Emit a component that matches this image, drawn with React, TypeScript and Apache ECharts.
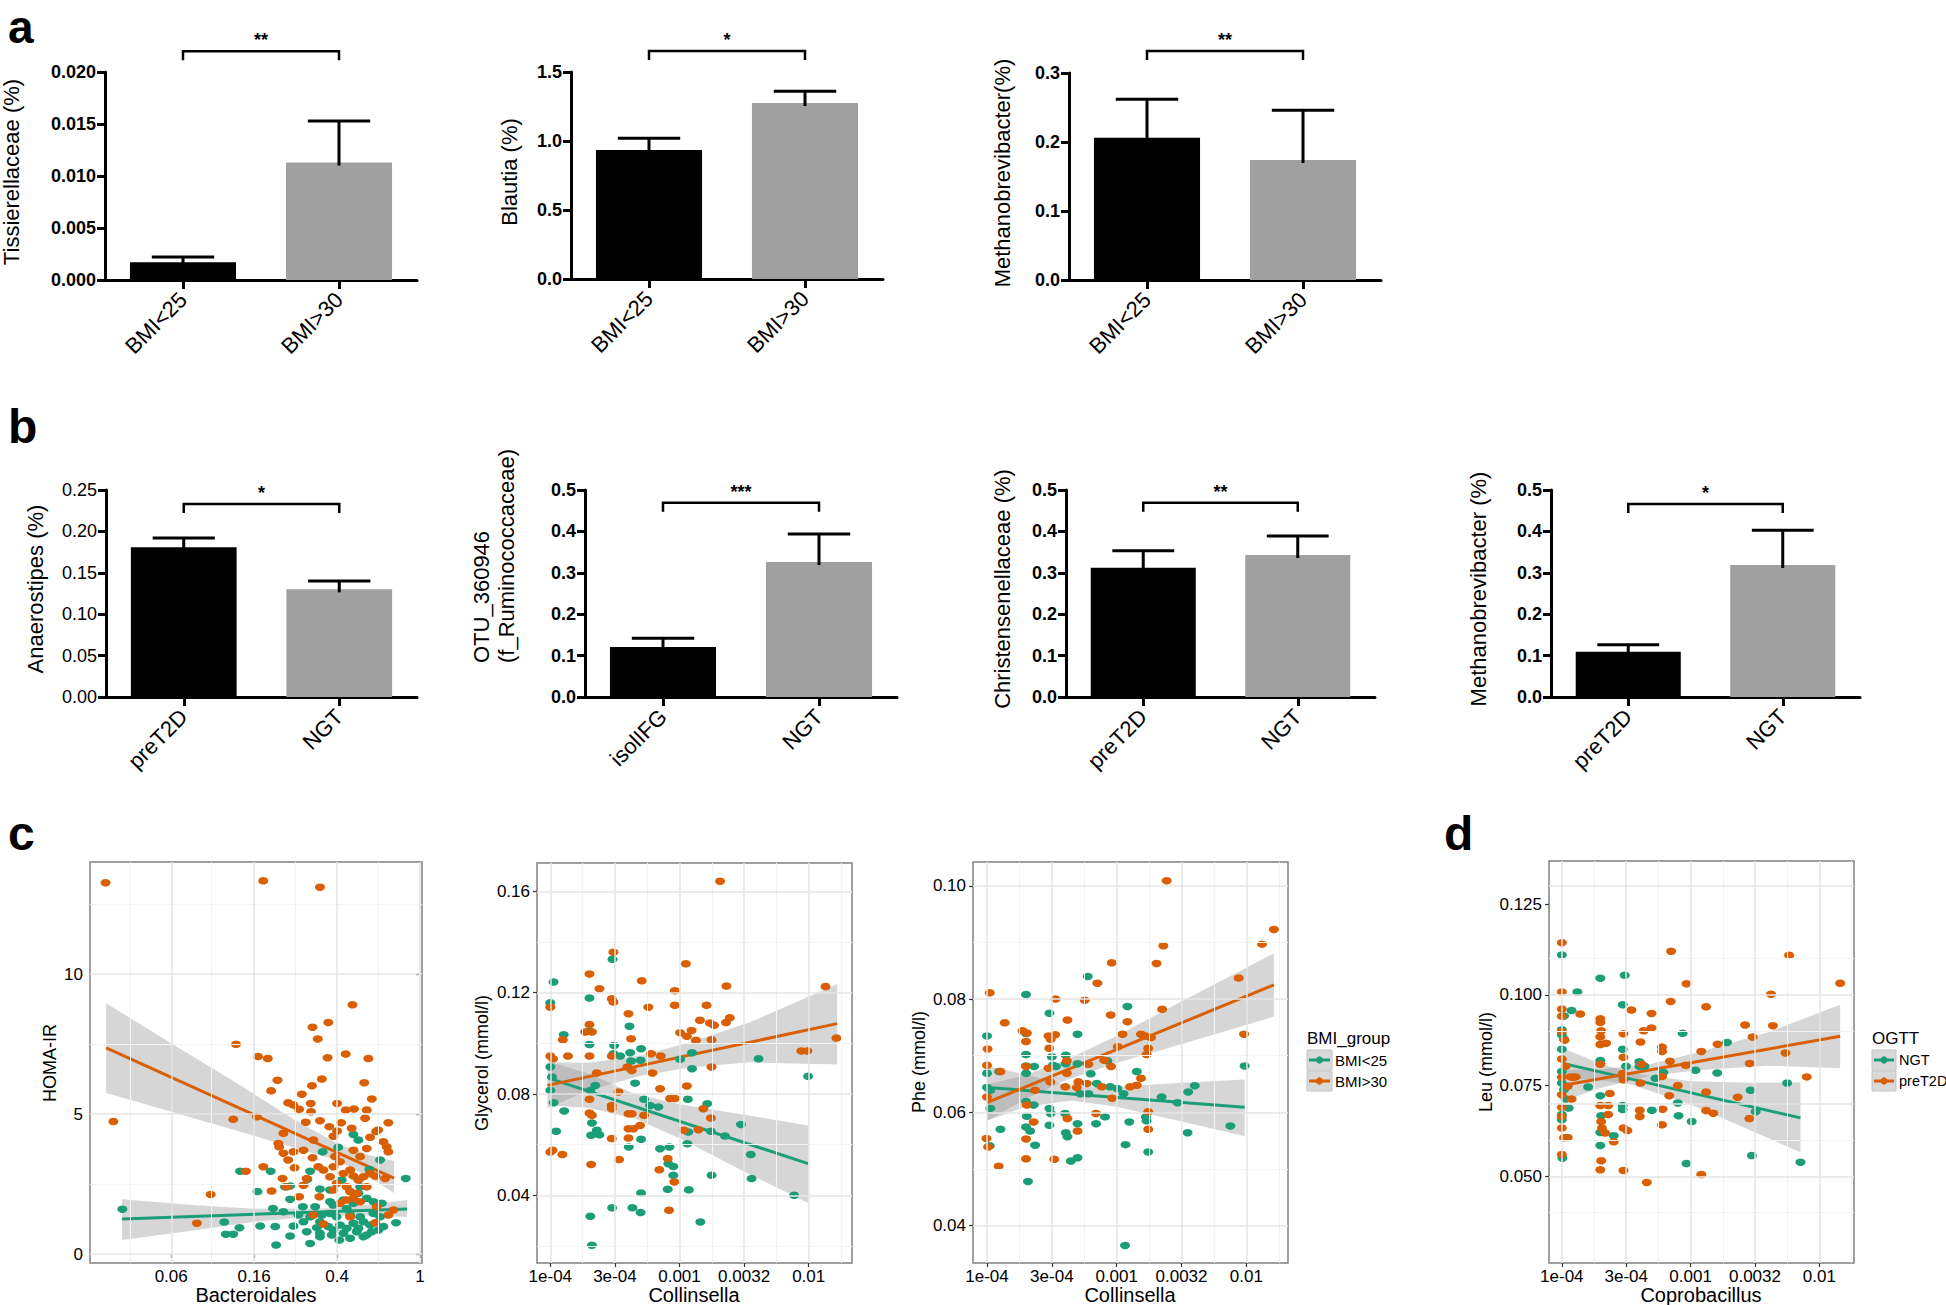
import React, { useEffect, useRef } from "react";
import * as echarts from "echarts";

const FONT = "'Liberation Sans', Arial, Helvetica, sans-serif";
const GREEN = "#1B9E77";
const ORANGE = "#D95F02";

// ---------------- Panel a / b : bar charts ----------------
const A_CATS = ["BMI<25", "BMI>30"];
const A1_MEAN = [0.0017, 0.0113];
const A1_UPPER = [0.0022, 0.0153];
const A2_MEAN = [0.935, 1.275];
const A2_UPPER = [1.02, 1.36];
const A3_MEAN = [0.206, 0.174];
const A3_UPPER = [0.262, 0.246];
const B1_CATS = ["preT2D", "NGT"];
const B1_MEAN = [0.181, 0.13];
const B1_UPPER = [0.192, 0.14];
const B2_CATS = ["isolIFG", "NGT"];
const B2_MEAN = [0.121, 0.326];
const B2_UPPER = [0.142, 0.394];
const B3_CATS = ["preT2D", "NGT"];
const B3_MEAN = [0.312, 0.343];
const B3_UPPER = [0.353, 0.389];
const B4_CATS = ["preT2D", "NGT"];
const B4_MEAN = [0.109, 0.319];
const B4_UPPER = [0.126, 0.403];
const SIG_LEVEL = [0.022, 1.652, 0.332, 0.233, 0.469, 0.469, 0.466];
const SIG_STARS = ["**", "*", "**", "*", "***", "**", "*"];
const Y_MAX = [0.02, 1.5, 0.3, 0.25, 0.5, 0.5, 0.5];
const Y_STEP = [0.005, 0.5, 0.1, 0.05, 0.1, 0.1, 0.1];
const Y_DEC = [3, 1, 1, 2, 1, 1, 1];
const BAR_BOLD = [true, true, true, false, true, true, true];

// ---------------- Panel c / d : scatter plots ----------------
const C1_BMI25 = [[0.0373,1.60],[0.137,2.96],[0.192,2.96],[0.854,2.70],[0.643,3.36],[0.479,4.27],[0.506,4.07],[0.405,3.81],[0.341,3.65],[0.297,2.96],[0.288,2.67],[0.166,2.23],[0.225,2.40],[0.238,2.43],[0.331,2.32],[0.421,2.64],[0.516,2.40],[0.572,3.02],[0.506,2.17],[0.370,2.29],[0.238,1.96],[0.274,1.69],[0.314,1.69],[0.370,1.87],[0.384,1.75],[0.429,1.93],[0.479,1.81],[0.555,1.99],[0.598,1.87],[0.655,1.81],[0.197,1.63],[0.221,1.51],[0.261,1.39],[0.297,1.33],[0.338,1.39],[0.370,1.45],[0.398,1.33],[0.462,1.39],[0.516,1.33],[0.598,1.45],[0.643,1.33],[0.115,1.14],[0.136,0.94],[0.171,1.00],[0.202,0.98],[0.247,1.00],[0.276,1.15],[0.320,0.94],[0.363,0.98],[0.413,1.04],[0.479,1.10],[0.535,1.15],[0.576,1.04],[0.667,0.98],[0.767,1.12],[0.117,0.71],[0.127,0.71],[0.238,0.64],[0.286,0.80],[0.331,0.74],[0.377,0.68],[0.429,0.74],[0.497,0.80],[0.555,0.68],[0.632,0.86],[0.204,0.32],[0.297,0.38],[0.410,0.50],[0.462,0.56],[0.535,0.62],[0.331,0.62],[0.384,0.86],[0.445,0.92],[0.506,0.92],[0.587,0.80],[0.331,1.15],[0.445,1.63]];
const C1_BMI30 = [[0.031,13.26],[0.177,13.33],[0.331,13.10],[0.0338,4.73],[0.474,8.90],[0.363,8.27],[0.305,8.10],[0.323,7.68],[0.131,7.49],[0.440,7.14],[0.167,7.05],[0.186,6.98],[0.360,7.01],[0.565,6.98],[0.338,6.25],[0.207,6.21],[0.540,6.12],[0.303,6.01],[0.193,5.83],[0.271,5.71],[0.587,5.54],[0.233,5.40],[0.247,5.32],[0.299,5.38],[0.400,5.38],[0.440,5.14],[0.482,5.18],[0.263,5.17],[0.300,5.08],[0.555,5.14],[0.127,4.81],[0.165,4.90],[0.545,4.85],[0.331,4.76],[0.283,4.71],[0.418,4.69],[0.705,4.69],[0.367,4.55],[0.470,4.49],[0.630,4.43],[0.616,4.38],[0.400,4.39],[0.221,4.31],[0.576,4.17],[0.384,4.21],[0.209,3.95],[0.211,3.83],[0.308,4.07],[0.667,4.01],[0.692,3.83],[0.705,3.65],[0.247,3.65],[0.276,3.71],[0.221,3.60],[0.233,3.36],[0.305,3.44],[0.391,3.48],[0.413,3.30],[0.555,3.77],[0.516,3.48],[0.479,3.71],[0.250,3.08],[0.177,3.12],[0.146,2.96],[0.462,3.00],[0.325,3.12],[0.344,3.00],[0.384,3.12],[0.429,2.88],[0.479,2.79],[0.506,2.64],[0.535,2.76],[0.576,2.88],[0.610,2.79],[0.680,2.70],[0.219,2.70],[0.286,2.70],[0.229,2.40],[0.370,2.76],[0.398,2.52],[0.445,2.40],[0.462,2.23],[0.497,2.17],[0.555,2.40],[0.276,2.46],[0.329,2.05],[0.263,2.05],[0.194,2.25],[0.099,2.13],[0.445,1.93],[0.479,1.99],[0.516,1.87],[0.620,1.69],[0.705,1.39],[0.745,1.57],[0.610,1.12],[0.344,1.07],[0.462,1.33],[0.085,1.10],[0.384,2.29],[0.413,1.81],[0.308,1.39]];
const C1_LINE_BMI25 = [[0.0372,1.25],[0.867,1.61]];
const C1_LINE_BMI30 = [[0.0312,7.36],[0.75,2.71]];
const C1_BAND_BMI25 = [[0.0372,0.50,1.96],[0.08,0.83,1.75],[0.16,1.15,1.62],[0.35,1.38,1.63],[0.6,1.38,1.78],[0.867,1.32,1.93]];
const C1_BAND_BMI30 = [[0.0312,5.75,8.96],[0.063,5.1,7.55],[0.126,4.45,6.2],[0.25,3.8,4.8],[0.40,3.35,3.95],[0.56,2.78,3.55],[0.75,2.18,3.32]];

const C2_BMI25 = [[1.06e-4,0.1242],[1e-4,0.116],[3.03e-4,0.1332],[1.27e-4,0.1034],[2.01e-4,0.1179],[4.1e-4,0.1068],[2.01e-4,0.1049],[2.01e-4,0.0995],[3.12e-4,0.0992],[4.15e-4,0.0963],[3.47e-4,0.095],[3.08e-4,0.0959],[5.04e-4,0.0979],[1.25e-3,0.0963],[5.0e-4,0.0933],[4.22e-4,0.093],[1.01e-3,0.0937],[1.25e-3,0.09],[4.09e-3,0.0939],[9.89e-3,0.087],[1e-4,0.0907],[1.03e-4,0.0867],[1.06e-4,0.0766],[1e-4,0.0814],[1.28e-4,0.0733],[1.11e-4,0.0653],[2.1e-4,0.0686],[2.29e-4,0.0657],[2.4e-4,0.0639],[2.07e-4,0.0637],[2.23e-4,0.0834],[2.04e-4,0.0814],[4.53e-4,0.0843],[5.32e-4,0.0779],[5.92e-4,0.0755],[6.86e-4,0.0749],[1.16e-3,0.0779],[1.64e-3,0.0762],[2.99e-3,0.068],[3.56e-3,0.0561],[1.75e-3,0.0653],[2.25e-3,0.0634],[1.17e-3,0.065],[1.15e-3,0.0604],[5.04e-4,0.0621],[4.05e-4,0.0591],[7.07e-4,0.0584],[8.35e-4,0.0591],[8.2e-4,0.0525],[8.96e-4,0.0514],[8.96e-4,0.0479],[1.77e-3,0.0479],[3.61e-3,0.0466],[7.71e-3,0.04],[1.18e-3,0.0422],[8.1e-4,0.0424],[5.04e-4,0.0409],[3.01e-4,0.0351],[4.32e-4,0.0351],[5.0e-4,0.0332],[2.04e-4,0.0317],[2.1e-4,0.0203],[1.45e-3,0.0295]];
const C2_BMI30 = [[2.06e-3,0.164],[3.08e-4,0.136],[1.12e-3,0.1314],[2.01e-4,0.1274],[5.1e-4,0.1247],[9.2e-4,0.1208],[2.31e-3,0.1226],[2.4e-4,0.1216],[1.35e-2,0.1224],[2.99e-4,0.1176],[3.08e-4,0.1163],[9.2e-4,0.115],[5.74e-4,0.1143],[1.62e-3,0.115],[4.03e-4,0.1117],[2.45e-3,0.1101],[1e-4,0.1143],[2.29e-3,0.1082],[1.44e-3,0.1091],[1.72e-3,0.108],[1.85e-3,0.1071],[2.01e-4,0.1074],[1.25e-4,0.1014],[1.86e-4,0.1045],[2.1e-4,0.1045],[1.01e-3,0.1042],[1.14e-3,0.1028],[1.24e-3,0.1051],[4.22e-4,0.1018],[1.34e-3,0.1012],[1.77e-3,0.1014],[6.03e-4,0.0959],[7.16e-4,0.095],[8.77e-3,0.097],[9.77e-3,0.097],[1.64e-2,0.1021],[1e-4,0.095],[1.37e-4,0.095],[1.05e-4,0.0939],[2.01e-4,0.095],[2.99e-4,0.095],[3.95e-4,0.0907],[4.27e-4,0.0893],[1.77e-3,0.0907],[2.29e-4,0.0883],[6.17e-4,0.0883],[1.14e-3,0.0832],[3.37e-4,0.0808],[7.07e-4,0.0821],[8.45e-4,0.0782],[9.2e-4,0.0782],[2.01e-4,0.0779],[2.99e-4,0.0755],[2.99e-4,0.0742],[1.53e-3,0.0742],[4.27e-4,0.0722],[2.01e-4,0.0725],[2.1e-4,0.0716],[4.03e-4,0.0722],[5.32e-4,0.0716],[1.75e-3,0.0705],[1e-4,0.0571],[1.04e-4,0.0578],[1.24e-4,0.0561],[2.07e-4,0.0522],[3.41e-4,0.0541],[8.1e-4,0.0545],[6.98e-4,0.0501],[9.12e-4,0.0453],[8.3e-4,0.0341],[2.99e-4,0.0624],[4.03e-4,0.0626],[4.03e-4,0.0663],[4.4e-4,0.0663],[4.95e-4,0.0676],[1.08e-3,0.0657],[1.4e-3,0.0659]];
const C2_LINE_BMI25 = [[1e-4,0.0861],[9.9e-3,0.0525]];
const C2_LINE_BMI30 = [[9.5e-5,0.0834],[1.66e-2,0.1078]];
const C2_BAND_BMI25 = [[1e-4,0.0755,0.0926],[2e-4,0.0745,0.088],[4.5e-4,0.0703,0.08],[1e-3,0.0625,0.076],[3e-3,0.05,0.072],[9.9e-3,0.037,0.0676]];
const C2_BAND_BMI30 = [[9.5e-5,0.0745,0.0925],[2e-4,0.0815,0.0923],[5e-4,0.0872,0.0952],[1.2e-3,0.0905,0.1003],[3.5e-3,0.0925,0.1083],[1.66e-2,0.0917,0.1233]];

const C3_BMI25 = [[5.98e-4,0.084],[2.0e-4,0.0808],[3.03e-4,0.0775],[1.21e-3,0.0787],[1e-4,0.0735],[2.0e-4,0.0739],[4.99e-4,0.0738],[3.16e-4,0.0698],[4.05e-4,0.0701],[2.0e-4,0.0702],[4.05e-4,0.0686],[3.4e-4,0.0681],[4.99e-4,0.0686],[1e-4,0.0669],[1.24e-4,0.0672],[2.0e-4,0.0682],[2.0e-4,0.0669],[2.31e-4,0.0681],[8.48e-4,0.0691],[6.31e-4,0.0668],[7.02e-4,0.0651],[1.43e-3,0.0672],[9.7e-3,0.0682],[1e-4,0.0644],[1.06e-4,0.0639],[1.06e-4,0.0607],[2.0e-4,0.0619],[2.29e-4,0.0613],[3.03e-4,0.0607],[3.1e-4,0.0598],[4.0e-4,0.0598],[5.23e-4,0.0633],[6.05e-4,0.0633],[8.89e-4,0.0645],[1.01e-3,0.0642],[1.13e-3,0.0633],[2.22e-3,0.0627],[2.94e-3,0.0617],[3.56e-3,0.0636],[4.0e-3,0.0647],[1.68e-3,0.0592],[1.7e-3,0.0585],[8.13e-4,0.0592],[6.93e-4,0.058],[4.99e-4,0.058],[4.05e-4,0.0564],[4.17e-4,0.0557],[3.03e-4,0.0577],[2.03e-4,0.0593],[2.0e-4,0.0574],[2.15e-4,0.0567],[2.35e-4,0.0542],[1.27e-4,0.057],[1.05e-4,0.0541],[2.07e-4,0.0478],[4.43e-4,0.0514],[4.99e-4,0.052],[1.17e-3,0.0543],[1.25e-3,0.0583],[1.75e-3,0.053],[3.52e-3,0.0564],[7.53e-3,0.0576],[1.16e-3,0.0365],[3.22e-4,0.0683]];
const C3_BMI30 = [[2.43e-3,0.1009],[1.63e-2,0.0923],[1.32e-2,0.0897],[2.29e-3,0.0894],[9.16e-4,0.0864],[2.03e-3,0.0863],[7.1e-4,0.0828],[2.24e-3,0.0782],[1.05e-4,0.0811],[5.67e-4,0.0798],[3.37e-4,0.08],[8.99e-4,0.0772],[1.21e-3,0.076],[4.17e-4,0.0763],[1.37e-4,0.0758],[1.88e-4,0.0744],[2.03e-4,0.074],[2.98e-4,0.0735],[3.1e-4,0.0729],[3.35e-4,0.0737],[1.11e-3,0.0738],[1.67e-3,0.0735],[1.84e-3,0.0732],[1.54e-3,0.0738],[9.6e-3,0.0738],[1.01e-4,0.0712],[2.0e-4,0.0725],[3.02e-4,0.0713],[4.13e-4,0.0691],[1.02e-3,0.0716],[1.75e-3,0.0713],[1.7e-3,0.0702],[6.05e-4,0.0685],[1e-4,0.0683],[1.27e-4,0.0672],[2.98e-4,0.0678],[4.13e-4,0.0669],[2.0e-4,0.0681],[5.07e-4,0.0654],[5.88e-4,0.0651],[7.67e-4,0.0645],[9.04e-4,0.0681],[4.02e-4,0.0645],[4.93e-4,0.0644],[1.27e-3,0.0645],[1.43e-3,0.0648],[1.54e-3,0.066],[3.07e-4,0.0654],[2.35e-4,0.0639],[1e-4,0.0627],[2.03e-4,0.0613],[6.93e-4,0.0598],[9.23e-4,0.0625],[1.75e-3,0.0601],[4.17e-4,0.0589],[2.29e-4,0.0583],[4.99e-4,0.0567],[2.0e-4,0.0553],[9.9e-5,0.0554],[1.02e-4,0.0539],[2.0e-4,0.0518],[3.3e-4,0.0517],[1.23e-4,0.0505],[1.75e-3,0.057],[8.73e-3,0.0837],[8.0e-4,0.0692]];
const C3_LINE_BMI25 = [[1e-4,0.0644],[9.7e-3,0.0609]];
const C3_LINE_BMI30 = [[1e-4,0.0617],[1.63e-2,0.0825]];
const C3_BAND_BMI25 = [[1e-4,0.0585,0.0682],[2e-4,0.061,0.0667],[4.5e-4,0.0621,0.0645],[1e-3,0.061,0.0645],[3e-3,0.0585,0.0652],[9.7e-3,0.0558,0.0658]];
const C3_BAND_BMI30 = [[1e-4,0.0585,0.0649],[2e-4,0.0624,0.0666],[4e-4,0.0656,0.0692],[1e-3,0.0687,0.0735],[3e-3,0.0719,0.0793],[1.63e-2,0.0769,0.0881]];

const D_NGT = [[1e-4,0.111],[1.99e-4,0.1046],[3.08e-4,0.1054],[1.32e-4,0.1008],[1.19e-4,0.0957],[1.04e-4,0.0942],[2.97e-4,0.0973],[1e-4,0.0904],[1e-4,0.089],[1.04e-4,0.0878],[1e-4,0.085],[2.97e-4,0.085],[8.67e-4,0.0894],[1.92e-3,0.0869],[1.99e-4,0.0819],[4.0e-4,0.0816],[4.0e-4,0.0803],[5.33e-4,0.077],[6.14e-4,0.0786],[1.09e-3,0.0792],[1.61e-3,0.0785],[2.92e-3,0.0737],[5.62e-3,0.0757],[3.2e-3,0.0678],[1e-4,0.0789],[1e-4,0.0757],[1.04e-4,0.0739],[1.07e-4,0.0713],[1.13e-4,0.0688],[1e-4,0.067],[1e-4,0.0656],[1.6e-4,0.0746],[1.99e-4,0.0722],[2.02e-4,0.0667],[2.97e-4,0.0695],[2.97e-4,0.0684],[5.0e-4,0.0682],[7.96e-4,0.0702],[8.06e-4,0.0667],[1.02e-3,0.0651],[1.99e-4,0.0621],[1.99e-4,0.0585],[2.53e-4,0.0612],[1.01e-4,0.055],[9.29e-4,0.0535],[2.99e-3,0.0557],[7.13e-3,0.0539],[3.15e-4,0.0803],[4.38e-4,0.0803]];
const D_PRET2D = [[1e-4,0.1144],[7.06e-4,0.112],[5.82e-3,0.1109],[1e-4,0.1008],[9.29e-4,0.1031],[1.45e-2,0.1032],[7.0e-4,0.0982],[4.21e-3,0.1002],[1.32e-3,0.0967],[1e-4,0.0961],[1e-4,0.0941],[1.39e-4,0.0947],[3.47e-4,0.0958],[4.97e-4,0.0949],[1.99e-4,0.0934],[1.99e-4,0.0924],[1e-4,0.0899],[2.02e-4,0.0901],[3.01e-4,0.0893],[4.32e-4,0.0901],[4.97e-4,0.0909],[2.65e-3,0.0917],[4.36e-3,0.0915],[1.05e-4,0.0875],[1.99e-4,0.0884],[2.21e-4,0.0867],[4.08e-4,0.087],[1.99e-4,0.0863],[6.0e-4,0.0856],[6.0e-4,0.0844],[3.01e-4,0.0828],[1.62e-3,0.0864],[3.03e-3,0.0884],[1.21e-3,0.0844],[5.46e-3,0.084],[1e-4,0.0823],[1.07e-4,0.0803],[1.23e-4,0.0773],[1e-4,0.0773],[1.11e-4,0.0748],[1e-4,0.0725],[1.19e-4,0.0713],[1.99e-4,0.0809],[2.97e-4,0.0783],[4.17e-4,0.0809],[6.0e-4,0.0775],[6.91e-4,0.0817],[9.16e-4,0.0806],[6.82e-4,0.0722],[7.96e-4,0.075],[1.32e-3,0.0732],[2.32e-3,0.0718],[2.88e-3,0.0811],[7.98e-3,0.0774],[2.36e-4,0.0728],[1e-4,0.069],[1e-4,0.0665],[1.04e-4,0.0606],[1.11e-4,0.0607],[1.99e-4,0.0695],[2.29e-4,0.0695],[2.29e-4,0.067],[2.02e-4,0.0651],[2.05e-4,0.0633],[2.17e-4,0.0619],[2.53e-4,0.0595],[1e-4,0.0633],[3.01e-4,0.0633],[3.23e-4,0.0626],[4.03e-4,0.0682],[4.03e-4,0.0665],[6.06e-4,0.0685],[6.0e-4,0.0642],[1.32e-3,0.0681],[1.5e-3,0.0674],[2.86e-3,0.0659],[1e-4,0.056],[2.02e-4,0.0543],[1.99e-4,0.0518],[3.01e-4,0.0516],[4.57e-4,0.0483],[1.21e-3,0.0505],[3.01e-4,0.0766],[4.08e-4,0.0757],[1.17e-4,0.0774],[1.28e-4,0.0774]];
const D_LINE_NGT = [[1e-4,0.0812],[7.13e-3,0.0661]];
const D_LINE_PRET2D = [[1e-4,0.075],[1.45e-2,0.0886]];
const D_BAND_NGT = [[1e-4,0.077,0.0854],[2e-4,0.0765,0.081],[3.5e-4,0.0752,0.0785],[1e-3,0.0698,0.0762],[3e-3,0.0625,0.0758],[7.13e-3,0.0566,0.0759]];
const D_BAND_PRET2D = [[1e-4,0.0707,0.0793],[2e-4,0.0743,0.0795],[5e-4,0.0778,0.081],[1.2e-3,0.0793,0.0843],[4e-3,0.0805,0.0897],[1.45e-2,0.0798,0.0973]];

// axis ticks
const C1_XTICKS = [0.064, 0.16, 0.4, 1];
const C1_XLABELS = ["0.06", "0.16", "0.4", "1"];
const C1_XMINOR = [0.0405, 0.101, 0.253, 0.632];
const C1_YTICKS = [0, 5, 10];
const C1_YLABELS = ["0", "5", "10"];
const C1_YMINOR = [2.5, 7.5, 12.5];
const COL_XTICKS = [1e-4, 3.1623e-4, 1e-3, 3.1623e-3, 1e-2];
const COL_XLABELS = ["1e-04", "3e-04", "0.001", "0.0032", "0.01"];
const COL_XMINOR = [1.778e-4, 5.623e-4, 1.778e-3, 5.623e-3, 1.778e-2];
const C2_YTICKS = [0.04, 0.08, 0.12, 0.16];
const C2_YLABELS = ["0.04", "0.08", "0.12", "0.16"];
const C2_YMINOR = [0.02, 0.06, 0.1, 0.14];
const C3_YTICKS = [0.04, 0.06, 0.08, 0.1];
const C3_YLABELS = ["0.04", "0.06", "0.08", "0.10"];
const C3_YMINOR = [0.05, 0.07, 0.09];
const D_YTICKS = [0.05, 0.075, 0.1, 0.125];
const D_YLABELS = ["0.050", "0.075", "0.100", "0.125"];
const D_YMINOR = [0.0375, 0.0625, 0.0875, 0.1125];

const lg = (v: number) => Math.log10(v);
const pick = (v: number, vals: number[], labels: string[]) => {
  let best = 0;
  for (let i = 1; i < vals.length; i++) if (Math.abs(vals[i] - v) < Math.abs(vals[best] - v)) best = i;
  return labels[best];
};

function buildOption() {
  const grids: any[] = [];
  const xAxes: any[] = [];
  const yAxes: any[] = [];
  const series: any[] = [];

  const bars = [
    { cats: A_CATS, mean: A1_MEAN, upper: A1_UPPER },
    { cats: A_CATS, mean: A2_MEAN, upper: A2_UPPER },
    { cats: A_CATS, mean: A3_MEAN, upper: A3_UPPER },
    { cats: B1_CATS, mean: B1_MEAN, upper: B1_UPPER },
    { cats: B2_CATS, mean: B2_MEAN, upper: B2_UPPER },
    { cats: B3_CATS, mean: B3_MEAN, upper: B3_UPPER },
    { cats: B4_CATS, mean: B4_MEAN, upper: B4_UPPER },
  ];
  const barLayout = [
    { left: 105, top: 72, width: 312, height: 208 },
    { left: 571, top: 72, width: 312, height: 207 },
    { left: 1069, top: 73, width: 312, height: 207 },
    { left: 106, top: 490, width: 311, height: 207 },
    { left: 585, top: 490, width: 312, height: 207 },
    { left: 1066, top: 490, width: 309, height: 207 },
    { left: 1551, top: 490, width: 309, height: 207 },
  ];

  const errRender = (params: any, api: any) => {
    const x = api.value(0);
    const base = api.coord([x, api.value(1)]);
    const top = api.coord([x, api.value(2)]);
    const bw = api.size([1, 0])[0];
    const half = bw * 0.2;
    const style = { stroke: "#000", lineWidth: 3, fill: "none" };
    return {
      type: "group",
      children: [
        { type: "line", shape: { x1: top[0], y1: base[1] + 3, x2: top[0], y2: top[1] }, style },
        { type: "line", shape: { x1: top[0] - half, y1: top[1], x2: top[0] + half, y2: top[1] }, style },
      ],
    };
  };
  const bracketRender = (stars: string) => (params: any, api: any) => {
    const lvl = api.value(2);
    const pL = api.coord([api.value(0), lvl]);
    const pR = api.coord([api.value(1), lvl]);
    return {
      type: "group",
      children: [
        {
          type: "polyline",
          shape: { points: [[pL[0], pL[1] + 9], [pL[0], pL[1]], [pR[0], pR[1]], [pR[0], pR[1] + 9]] },
          style: { stroke: "#000", lineWidth: 2.5, fill: "none" },
        },
        {
          type: "text",
          x: (pL[0] + pR[0]) / 2,
          y: pL[1] - 2,
          style: {
            text: stars, fill: "#000", font: `bold 18px ${FONT}`,
            textAlign: "center", textVerticalAlign: "bottom", align: "center", verticalAlign: "bottom",
          },
        },
      ],
    };
  };

  bars.forEach((d, i) => {
    grids.push({ ...barLayout[i], show: false });
    xAxes.push({
      gridIndex: i, type: "category", data: d.cats,
      axisLine: { show: true, lineStyle: { color: "#000", width: 3 } },
      axisTick: { show: true, alignWithLabel: true, length: 9, lineStyle: { color: "#000", width: 3 } },
      axisLabel: { rotate: 45, interval: 0, fontSize: 22, color: "#000", fontFamily: FONT, margin: 16 },
      splitLine: { show: false },
    });
    yAxes.push({
      gridIndex: i, type: "value", min: 0, max: Y_MAX[i], interval: Y_STEP[i],
      axisLine: { show: true, lineStyle: { color: "#000", width: 3 } },
      axisTick: { show: true, length: 8, lineStyle: { color: "#000", width: 3 } },
      axisLabel: {
        formatter: (v: number) => v.toFixed(Y_DEC[i]), fontSize: 18,
        fontWeight: BAR_BOLD[i] ? "bold" : "normal", color: "#000", fontFamily: FONT, margin: 9,
      },
      splitLine: { show: false },
    });
    series.push({
      type: "bar", xAxisIndex: i, yAxisIndex: i, barWidth: "68%",
      data: d.mean.map((v, k) => ({ value: v, itemStyle: { color: k === 0 ? "#000000" : "#A0A0A0" } })),
    });
    series.push({
      type: "custom", xAxisIndex: i, yAxisIndex: i, clip: false, z: 3,
      data: d.mean.map((v, k) => [k, v, d.upper[k]]), encode: { x: 0, y: [1, 2] },
      renderItem: errRender,
    });
    series.push({
      type: "custom", xAxisIndex: i, yAxisIndex: i, clip: false, z: 3,
      data: [[0, 1, SIG_LEVEL[i]]], encode: { x: [0, 1], y: 2 },
      renderItem: bracketRender(SIG_STARS[i]),
    });
  });

  const scatters = [
    {
      layout: { left: 90, top: 862, width: 332, height: 401 }, xRange: [0.0261, 1.022], yRange: [-0.32, 14.0],
      xTicks: C1_XTICKS, xLabels: C1_XLABELS, xMinor: C1_XMINOR, yTicks: C1_YTICKS, yLabels: C1_YLABELS, yMinor: C1_YMINOR,
      pts: [C1_BMI25, C1_BMI30], lines: [C1_LINE_BMI25, C1_LINE_BMI30], bands: [C1_BAND_BMI25, C1_BAND_BMI30],
    },
    {
      layout: { left: 537, top: 863, width: 315, height: 400 }, xRange: [7.89e-5, 0.02163], yRange: [0.01329, 0.1712],
      xTicks: COL_XTICKS, xLabels: COL_XLABELS, xMinor: COL_XMINOR, yTicks: C2_YTICKS, yLabels: C2_YLABELS, yMinor: C2_YMINOR,
      pts: [C2_BMI25, C2_BMI30], lines: [C2_LINE_BMI25, C2_LINE_BMI30], bands: [C2_BAND_BMI25, C2_BAND_BMI30],
    },
    {
      layout: { left: 973, top: 862, width: 315, height: 401 }, xRange: [7.8e-5, 0.02094], yRange: [0.0334, 0.1042],
      xTicks: COL_XTICKS, xLabels: COL_XLABELS, xMinor: COL_XMINOR, yTicks: C3_YTICKS, yLabels: C3_YLABELS, yMinor: C3_YMINOR,
      pts: [C3_BMI25, C3_BMI30], lines: [C3_LINE_BMI25, C3_LINE_BMI30], bands: [C3_BAND_BMI25, C3_BAND_BMI30],
    },
    {
      layout: { left: 1549, top: 861, width: 305, height: 402 }, xRange: [7.95e-5, 0.01858], yRange: [0.0261, 0.1369],
      xTicks: COL_XTICKS, xLabels: COL_XLABELS, xMinor: COL_XMINOR, yTicks: D_YTICKS, yLabels: D_YLABELS, yMinor: D_YMINOR,
      pts: [D_NGT, D_PRET2D], lines: [D_LINE_NGT, D_LINE_PRET2D], bands: [D_BAND_NGT, D_BAND_PRET2D],
    },
  ];
  const colors = [GREEN, ORANGE];

  const bandRender = (params: any, api: any) => {
    if (params.dataIndexInside !== 0) return null;
    const n = params.dataInsideLength;
    const top: number[][] = [];
    const bot: number[][] = [];
    for (let i = 0; i < n; i++) {
      const x = api.value(0, i);
      top.push(api.coord([x, api.value(2, i)]));
      bot.push(api.coord([x, api.value(1, i)]));
    }
    return {
      type: "polygon",
      shape: { points: top.concat(bot.reverse()) },
      style: { fill: "rgba(153,153,153,0.4)", stroke: "none" },
    };
  };

  scatters.forEach((s, j) => {
    const gi = 7 + j;
    const xmin = lg(s.xRange[0]);
    const xmax = lg(s.xRange[1]);
    const xt = s.xTicks.map(lg);
    grids.push({ ...s.layout, show: true, borderColor: "#808080", borderWidth: 1.5, backgroundColor: "#FFFFFF" });
    xAxes.push({
      gridIndex: gi, type: "value", min: xmin, max: xmax,
      axisLine: { show: false },
      axisTick: { show: true, customValues: xt, length: 4, lineStyle: { color: "#333", width: 1.2 } },
      axisLabel: { customValues: xt, formatter: (v: number) => pick(v, xt, s.xLabels), fontSize: 17, color: "#000", fontFamily: FONT, margin: 5 },
      splitLine: { show: false },
    });
    yAxes.push({
      gridIndex: gi, type: "value", min: s.yRange[0], max: s.yRange[1],
      axisLine: { show: false },
      axisTick: { show: true, customValues: s.yTicks, length: 4, lineStyle: { color: "#333", width: 1.2 } },
      axisLabel: { customValues: s.yTicks, formatter: (v: number) => pick(v, s.yTicks, s.yLabels), fontSize: 17, color: "#000", fontFamily: FONT, margin: 7 },
      splitLine: { show: false },
    });
    const inX = (v: number) => lg(v) > xmin && lg(v) < xmax;
    const inY = (v: number) => v > s.yRange[0] && v < s.yRange[1];
    const minorStyle = { color: "#F3F3F3", width: 1, type: "solid" };
    const majorStyle = { color: "#E4E4E4", width: 1.5, type: "solid" };
    series.push({
      type: "line", xAxisIndex: gi, yAxisIndex: gi, data: [], z: 1, silent: true,
      markLine: {
        silent: true, symbol: ["none", "none"], label: { show: false }, animation: false,
        lineStyle: { type: "solid" },
        data: [
          ...s.xMinor.filter(inX).map((v) => ({ xAxis: lg(v), lineStyle: minorStyle })),
          ...s.yMinor.filter(inY).map((v) => ({ yAxis: v, lineStyle: minorStyle })),
          ...s.xTicks.filter(inX).map((v) => ({ xAxis: lg(v), lineStyle: majorStyle })),
          ...s.yTicks.filter(inY).map((v) => ({ yAxis: v, lineStyle: majorStyle })),
        ],
      },
    });
    [0, 1].forEach((g) => {
      series.push({
        type: "scatter", xAxisIndex: gi, yAxisIndex: gi, symbol: "circle", symbolSize: [10, 7.5], z: 2,
        itemStyle: { color: colors[g], opacity: 1 },
        data: s.pts[g].map((p) => [lg(p[0]), p[1]]),
      });
    });
    [0, 1].forEach((g) => {
      series.push({
        type: "custom", xAxisIndex: gi, yAxisIndex: gi, clip: true, silent: true, z: 2,
        data: s.bands[g].map((b) => [lg(b[0]), b[1], b[2]]), encode: { x: 0, y: [1, 2] },
        renderItem: bandRender,
      });
      series.push({
        type: "line", xAxisIndex: gi, yAxisIndex: gi, symbol: "none", showSymbol: false, silent: true, z: 2,
        lineStyle: { color: colors[g], width: 3 },
        data: s.lines[g].map((p) => [lg(p[0]), p[1]]),
      });
    });
  });

  const txt = (text: string, x: number, y: number, size: number, opts: any = {}) => ({
    type: "text", x, y, rotation: opts.rot || 0, silent: true,
    style: {
      text, fill: "#000", font: `${opts.bold ? "bold " : ""}${size}px ${FONT}`,
      textAlign: opts.align || "center", textVerticalAlign: "middle",
      align: opts.align || "center", verticalAlign: "middle",
    },
  });
  const R = Math.PI / 2;
  const elements: any[] = [
    txt("a", 8, 27, 46, { bold: true, align: "left" }),
    txt("b", 8, 426, 48, { bold: true, align: "left" }),
    txt("c", 8, 833, 48, { bold: true, align: "left" }),
    txt("d", 1444, 833, 48, { bold: true, align: "left" }),
    txt("Tissierellaceae (%)", 11, 172, 22, { rot: R }),
    txt("Blautia (%)", 509, 172, 22, { rot: R }),
    txt("Methanobrevibacter(%)", 1002, 173, 22, { rot: R }),
    txt("Anaerostipes (%)", 35, 589, 22, { rot: R }),
    txt("OTU_360946", 481, 663, 22, { rot: R, align: "left" }),
    txt("(f_Ruminococcaceae)", 506, 663, 22, { rot: R, align: "left" }),
    txt("Christensenellaceae (%)", 1002, 589, 22, { rot: R }),
    txt("Methanobrevibacter (%)", 1478, 589, 22, { rot: R }),
    txt("HOMA-IR", 50, 1063, 18, { rot: R }),
    txt("Glycerol (mmol/l)", 482, 1063, 18, { rot: R }),
    txt("Phe (mmol/l)", 919, 1062, 18, { rot: R }),
    txt("Leu (mmol/l)", 1486, 1062, 18, { rot: R }),
    txt("Bacteroidales", 256, 1295, 20),
    txt("Collinsella", 694, 1295, 20),
    txt("Collinsella", 1130, 1295, 20),
    txt("Coprobacillus", 1701, 1295, 20),
  ];
  const legend = (title: string, labels: string[], x: number, kw: number, fs: number) => {
    elements.push(txt(title, x, 1038, 17, { align: "left" }));
    labels.forEach((lab, k) => {
      const y = 1050 + k * 21;
      elements.push({ type: "rect", silent: true, shape: { x, y, width: kw, height: 20 }, style: { fill: "#D9D9D9", stroke: "#C4C4C4", lineWidth: 1 } });
      elements.push({ type: "line", silent: true, shape: { x1: x + 2, y1: y + 10, x2: x + kw - 2, y2: y + 10 }, style: { stroke: colors[k], lineWidth: 3 } });
      elements.push({ type: "circle", silent: true, shape: { cx: x + kw / 2, cy: y + 10, r: 3.6 }, style: { fill: colors[k] } });
      elements.push(txt(lab, x + kw + 3, y + 10, fs, { align: "left" }));
    });
  };
  legend("BMI_group", ["BMI<25", "BMI>30"], 1307, 25, 15);
  legend("OGTT", ["NGT", "preT2D"], 1872, 24, 14.5);

  return {
    animation: false,
    backgroundColor: "#FFFFFF",
    textStyle: { fontFamily: FONT },
    grid: grids,
    xAxis: xAxes,
    yAxis: yAxes,
    series,
    graphic: { elements },
  };
}

export default function App() {
  const ref = useRef<HTMLDivElement>(null);
  useEffect(() => {
    if (!ref.current) return;
    const chart = echarts.init(ref.current, undefined, { renderer: "svg" });
    chart.setOption(buildOption() as any);
    return () => chart.dispose();
  }, []);
  return (
    <div
      ref={ref}
      style={{ position: "absolute", left: 0, top: 0, width: 1946, height: 1305, background: "#fff" }}
    />
  );
}
